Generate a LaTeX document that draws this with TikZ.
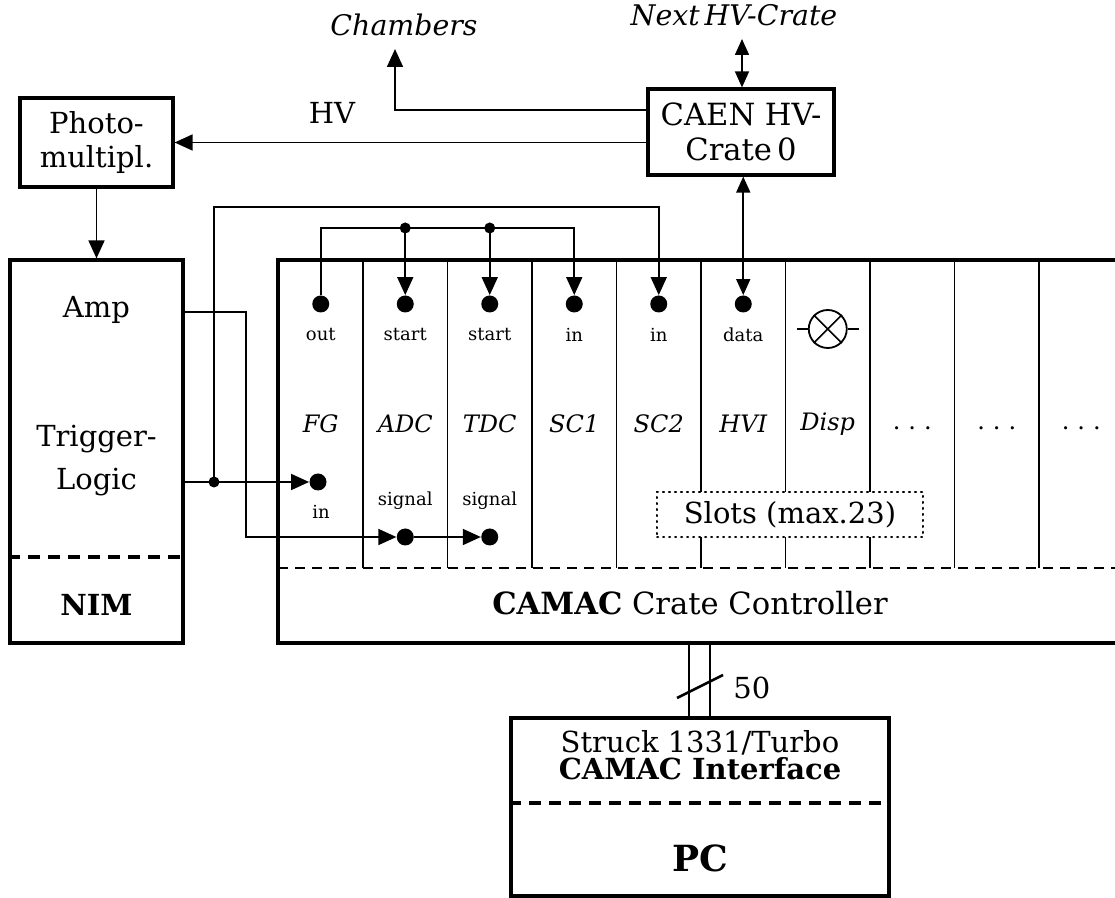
\documentclass[tikz,border=0pt]{standalone}
\usepackage{fontspec}
\setmainfont{DejaVu Serif}
\usetikzlibrary{arrows.meta,calc}
\newcommand\fsmain{\fontsize{14.5}{17}\selectfont}
\newcommand\fsbig{\fontsize{15.3}{17.5}\selectfont}
\newcommand\fssmall{\fontsize{9}{11}\selectfont}
\newcommand\fsname{\fontsize{12}{14}\selectfont\itshape}
\newcommand\fstop{\fontsize{14.2}{16}\selectfont\itshape}
\begin{document}
\begin{tikzpicture}[x=0.5pt,y=-0.5pt,
  box/.style={draw, line width=1.6pt, inner sep=0pt},
  wire/.style={line width=0.8pt},
  arr/.style={wire, -{Triangle[length=9pt,width=8pt]}},
  darr/.style={wire, {Triangle[length=8pt,width=7pt]}-{Triangle[length=8pt,width=7pt]}},
  dot/.style={circle, fill, inner sep=0pt, minimum size=8.5pt},
  jdot/.style={circle, fill, inner sep=0pt, minimum size=5.5pt},
  txt/.style={inner sep=0pt, align=center, font=\fsmain},
  lbl/.style={inner sep=0pt, font=\fssmall},
  nm/.style={inner sep=0pt, font=\fsname},
  thickdash/.style={line width=1.6pt, dash pattern=on 6pt off 4pt},
  thindash/.style={line width=0.8pt, dash pattern=on 5pt off 3.5pt}
]
\useasboundingbox (0,0) rectangle (1115,898);

% ---------------- boxes ----------------
\node[box, minimum width=76.5pt, minimum height=44.5pt, font=\fsmain, align=center] (pm) at (96.5,142.5) {Photo-\\multipl.};
\node[box, minimum width=86.5pt, minimum height=191.5pt] (nim) at (96.5,451.5) {};
\node[box, minimum width=93pt, minimum height=43pt, font=\fsbig, align=center] (caen) at (741,132) {CAEN HV-\\Crate\,0};
\node[box, minimum width=189pt, minimum height=89pt] (struck) at (700,807) {};

% NIM content
\node[txt] (amp) at (96.5,310) {Amp};
\node[txt, font=\fontsize{14.5}{21.5}\selectfont] (trig) at (96.5,461) {Trigger-\\Logic};
\node[txt] (nimt) at (96.5,605) {\bfseries NIM};
\coordinate (nimd) at (0,557);
\draw[thickdash] (nim.west |- nimd) -- (nim.east |- nimd);

% Struck / PC content
\node[txt, font=\fontsize{14.5}{12}\selectfont] (sttxt) at (700,755) {Struck 1331/Turbo\\\bfseries CAMAC Interface};
\node[txt, font=\fontsize{18}{20}\selectfont\bfseries] (pc) at (700,858) {PC};
\coordinate (std) at (0,803);
\draw[thickdash] (struck.west |- std) -- (struck.east |- std);

% ---------------- CAMAC crate ----------------
\coordinate (crTL) at (278,260);
\coordinate (crBL) at (278,643);
\draw[line width=1.6pt] (1116,260) -- (crTL) -- (crBL) -- (1116,643);
\draw[thindash] (278,568) -- (1116,568);
\foreach \x in {363,447.5,532,616.5,701,785.5,870,954.5,1039}
  \draw[wire] (\x,260) -- (\x,568);
\node[draw, fill=white, line width=1pt, dash pattern=on 0.6pt off 2.4pt, line cap=round,
      minimum width=133pt, minimum height=22.5pt, font=\fsmain, inner sep=0pt] (slots) at (790,514.5) {Slots (max.23)};
\node[inner sep=0pt, font=\fsbig] (ccc) at (690,603) {\bfseries CAMAC\mdseries{} Crate Controller};

% column labels
\node[nm] (nFG)  at (320.75,424) {FG};
\node[nm] (nADC) at (405.25,424) {ADC};
\node[nm] (nTDC) at (489.75,424) {TDC};
\node[nm] (nSC1) at (574.25,424) {SC1};
\node[nm] (nSC2) at (658.75,424) {SC2};
\node[nm] (nHVI) at (743.25,424) {HVI};
\node[nm] (nDsp) at (827.75,424) {Disp};
\node[nm, font=\fontsize{12}{14}\selectfont] (nd1) at (912.25,428) {.\,\,.\,\,.};
\node[nm, font=\fontsize{12}{14}\selectfont] (nd2) at (996.75,428) {.\,\,.\,\,.};
\node[nm, font=\fontsize{12}{14}\selectfont] (nd3) at (1081.25,428) {.\,\,.\,\,.};

% top connectors (dots)
\node[dot] (fgout)  at (320.75,304) {};
\node[dot] (adcst)  at (405.25,304) {};
\node[dot] (tdcst)  at (489.75,304) {};
\node[dot] (sc1in)  at (574.25,304) {};
\node[dot] (sc2in)  at (658.75,304) {};
\node[dot] (hvid)   at (743.25,304) {};
\node[lbl] (lout)  at (320.75,335) {out};
\node[lbl] (lst1)  at (405.25,335) {start};
\node[lbl] (lst2)  at (489.75,335) {start};
\node[lbl] (lin1)  at (574.25,335) {in};
\node[lbl] (lin2)  at (658.75,335) {in};
\node[lbl] (ldata) at (743.25,335) {data};

% display lamp
\node[circle, draw, line width=0.9pt, minimum size=19pt, inner sep=0pt] (lamp) at (827.75,329) {};
\draw[wire] (lamp.north west) -- (lamp.south east);
\draw[wire] (lamp.south west) -- (lamp.north east);
\draw[wire] (lamp.west) -- ++(-5.5pt,0);
\draw[wire] (lamp.east) -- ++(5.5pt,0);

% lower connectors
\node[dot] (fgin)   at (318,482) {};
\node[lbl] (lfgin)  at (321,512) {in};
\node[dot] (adcsig) at (405.25,537) {};
\node[dot] (tdcsig) at (489.75,537) {};
\node[lbl] (lsg1)   at (405.25,501) {signal};
\node[lbl] (lsg2)   at (489.75,501) {signal};

% ---------------- top-level labels ----------------
\node[inner sep=0pt, font=\fstop] (chamb) at (404,25) {Chambers};
\coordinate (chtip) at (395,49);
\node[inner sep=0pt, font=\fstop] (nexthv) at (734,15) {Next\,HV-Crate};
\coordinate (nxtip) at (742,39);
\node[txt] (hvl) at (332,113) {HV};

% ---------------- connectors ----------------
\coordinate (hvy) at (0,142.5);
\coordinate (chy) at (0,110);
\draw[arr] (caen.west |- hvy) -- (pm.east);
\draw[arr] (caen.west |- chy) -| (chtip);
\draw[darr] (nxtip) -- (nxtip |- caen.north);
\draw[darr] (hvid) -- (hvid |- caen.south);
\draw[arr] (pm) -- (nim);

% inner rail (FG out -> ADC, TDC, SC1)
\coordinate (rin) at (0,228);
\coordinate (j1) at (adcst |- rin);
\coordinate (j2) at (tdcst |- rin);
\draw[arr] (fgout) |- (sc1in |- rin) -- (sc1in);
\draw[arr] (j1) -- (adcst);
\draw[arr] (j2) -- (tdcst);
\node[jdot] at (j1) {};
\node[jdot] at (j2) {};

% trigger line and outer rail to SC2
\coordinate (rout) at (0,207);
\coordinate (jt) at (214,482);
\draw[arr] (nim.east |- jt) -- (fgin);
\draw[arr] (jt) |- (sc2in |- rout) -- (sc2in);
\node[jdot] at (jt) {};

% amp line to ADC / TDC signal
\coordinate (ampb) at (246,312);
\draw[arr] (nim.east |- ampb) -- (ampb) |- (adcsig);
\draw[arr] (adcsig) -- (tdcsig);

% bus to Struck
\coordinate (busA) at (689,643);
\coordinate (busB) at (710,643);
\draw[line width=1.3pt] (busA) -- (busA |- struck.north);
\draw[line width=1.3pt] (busB) -- (busB |- struck.north);
\draw[line width=1.3pt] (677,698) -- (723,675);
\node[txt, anchor=west] (fifty) at (733,688) {50};
\end{tikzpicture}
\end{document}
